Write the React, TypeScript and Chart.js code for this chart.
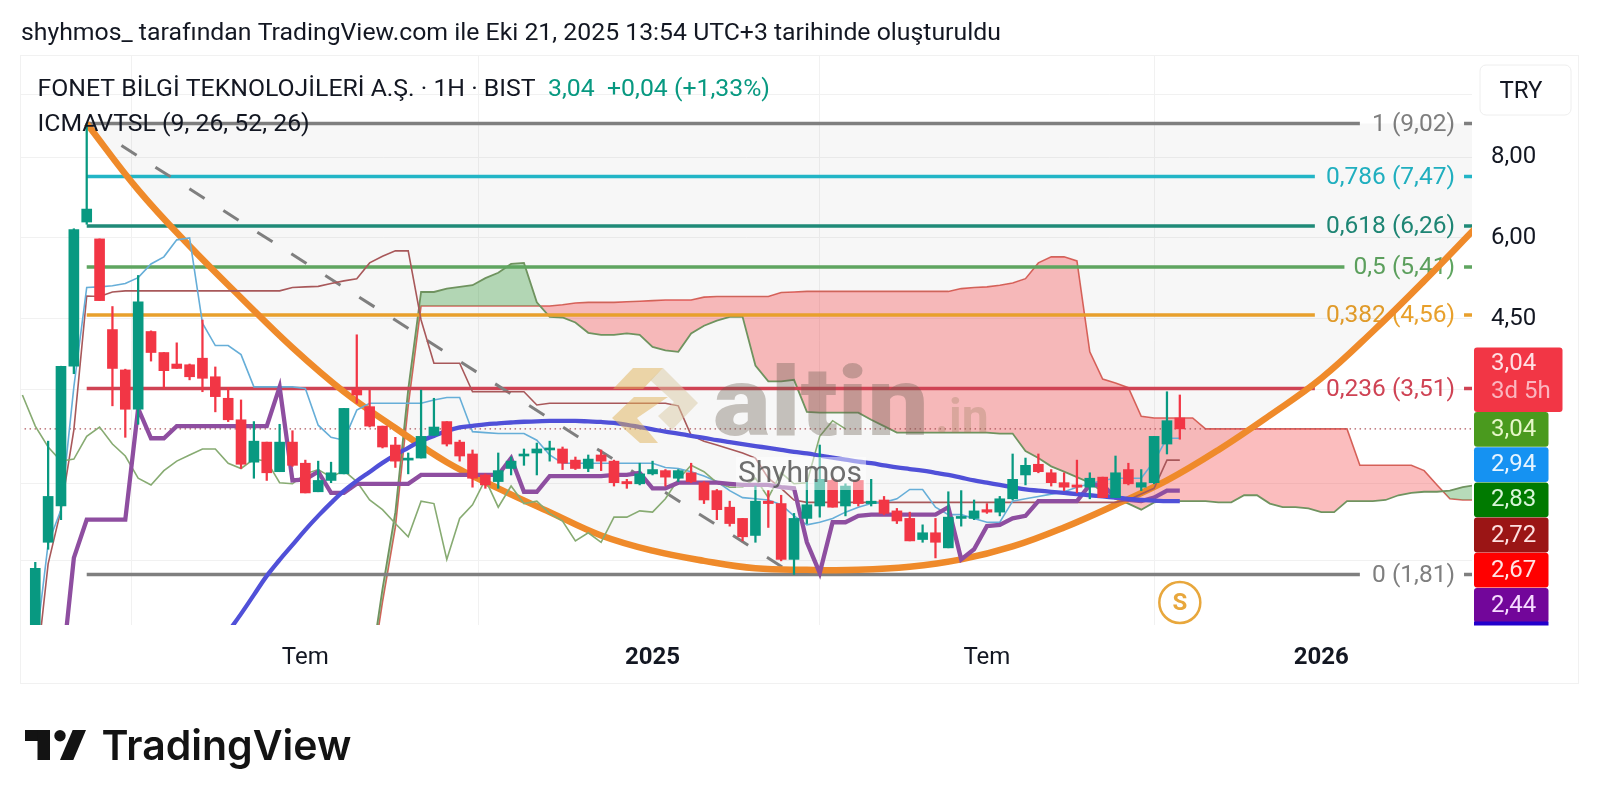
import React, { useEffect, useRef } from "react";
import { Chart, registerables } from "chart.js";

Chart.register(...registerables);

// ---------- data ----------
const opens = [
  1.45, 2.03, 2.31, 3.8, 6.35, 5.98, 4.33, 3.75, 3.26, 4.3,
  3.99, 3.83, 3.82, 3.91, 3.66, 3.39, 3.14, 2.7, 2.9, 2.61,
  2.9, 2.69, 2.43, 2.53, 2.59, 3.5, 3.29, 3.07, 2.87, 2.72,
  2.74, 2.97, 3.12, 2.9, 2.78, 2.58, 2.52, 2.64, 2.76, 2.79,
  2.82, 2.83, 2.72, 2.64, 2.77, 2.71, 2.52, 2.5, 2.59, 2.62,
  2.55, 2.6, 2.51, 2.44, 2.3, 2.21, 2.08, 2.35, 2.33, 1.91,
  2.21, 2.31, 2.53, 2.31, 2.53, 2.33, 2.36, 2.27, 2.21, 2.05,
  2.1, 1.99, 2.21, 2.21, 2.28, 2.26, 2.37, 2.58, 2.68, 2.6,
  2.51, 2.49, 2.47, 2.56, 2.38, 2.63, 2.47, 2.51, 2.88, 3.16,
];
const closes = [
  1.85, 2.39, 3.8, 6.18, 6.65, 4.8, 3.77, 3.26, 4.78, 3.99,
  3.74, 3.77, 3.66, 3.64, 3.41, 3.14, 2.68, 2.91, 2.6, 2.9,
  2.67, 2.42, 2.53, 2.6, 3.27, 3.43, 3.07, 2.85, 2.71, 2.73,
  2.96, 3.06, 2.88, 2.76, 2.55, 2.49, 2.62, 2.71, 2.77, 2.83,
  2.83, 2.69, 2.64, 2.73, 2.71, 2.51, 2.5, 2.59, 2.63, 2.56,
  2.62, 2.52, 2.36, 2.28, 2.17, 2.07, 2.35, 2.33, 1.91, 2.21,
  2.32, 2.54, 2.3, 2.48, 2.33, 2.35, 2.25, 2.19, 2.04, 2.1,
  2.03, 2.22, 2.22, 2.27, 2.26, 2.37, 2.54, 2.67, 2.61, 2.51,
  2.47, 2.47, 2.55, 2.38, 2.6, 2.5, 2.51, 2.96, 3.13, 3.04,
];
const highs = [
  1.89, 2.91, 3.8, 6.2, 9.02, 5.98, 4.7, 3.76, 5.25, 4.31,
  3.99, 4.13, 3.83, 4.48, 3.79, 3.52, 3.37, 3.12, 2.9, 3.09,
  3.02, 2.72, 2.71, 2.7, 3.27, 4.25, 3.49, 3.07, 2.95, 2.79,
  3.49, 3.39, 3.12, 2.92, 2.82, 2.59, 2.79, 2.75, 2.83, 2.89,
  2.91, 2.85, 2.75, 2.77, 2.82, 2.72, 2.54, 2.69, 2.71, 2.63,
  2.63, 2.69, 2.52, 2.45, 2.35, 2.21, 2.48, 2.44, 2.4, 2.25,
  2.52, 2.87, 2.55, 2.5, 2.54, 2.54, 2.39, 2.29, 2.26, 2.16,
  2.21, 2.43, 2.44, 2.36, 2.33, 2.39, 2.78, 2.74, 2.78, 2.63,
  2.6, 2.72, 2.6, 2.56, 2.76, 2.69, 2.63, 2.96, 3.47, 3.43,
];
const lows = [
  1.4, 1.98, 2.2, 3.7, 6.3, 4.8, 3.3, 2.95, 3.09, 3.87,
  3.51, 3.77, 3.62, 3.47, 3.23, 3.12, 2.64, 2.55, 2.53, 2.61,
  2.66, 2.42, 2.43, 2.51, 2.59, 3.33, 3.06, 2.84, 2.65, 2.59,
  2.74, 2.97, 2.86, 2.71, 2.47, 2.46, 2.46, 2.58, 2.67, 2.58,
  2.71, 2.63, 2.63, 2.61, 2.62, 2.48, 2.46, 2.49, 2.58, 2.48,
  2.52, 2.51, 2.33, 2.2, 2.15, 2.04, 2.03, 2.14, 1.9, 1.81,
  2.17, 2.22, 2.3, 2.23, 2.31, 2.31, 2.24, 2.17, 2.04, 2.03,
  1.92, 1.99, 2.15, 2.2, 2.25, 2.23, 2.36, 2.49, 2.6, 2.48,
  2.44, 2.42, 2.37, 2.38, 2.38, 2.49, 2.44, 2.5, 2.78, 2.93,
];

// Ichimoku conversion line, one value per bar
const conversionLine = [
  1.38, 2.02, 2.28, 3.53, 5.03, 5.04, 5.06, 5.1, 5.21, 5.47,
  5.61, 5.96, 6.0, 4.43, 4.09, 4.09, 3.96, 3.53, 3.53, 3.53,
  3.53, 3.51, 3.08, 2.95, 2.92, 3.25, 3.33, 3.33, 3.33, 3.33,
  3.33, 3.37, 3.4, 3.4, 3.01, 3.0, 2.99, 2.99, 2.99, 2.92,
  2.77, 2.69, 2.69, 2.69, 2.69, 2.69, 2.69, 2.69, 2.69, 2.65,
  2.64, 2.61, 2.57, 2.52, 2.44, 2.38, 2.37, 2.36, 2.32, 2.23,
  2.16, 2.18, 2.21, 2.26, 2.3, 2.33, 2.34, 2.37, 2.45, 2.45,
  2.3, 2.24, 2.24, 2.21, 2.18, 2.18, 2.35, 2.37, 2.39, 2.41,
  2.43, 2.47, 2.5, 2.53, 2.55, 2.55, 2.55, 2.71, 2.94, 2.94,
];
// Ichimoku base line, one value per bar
const baseLine = [
  1.24, 1.88, 2.28, 3.03, 4.88, 4.87, 4.95, 4.97, 4.97, 4.97,
  4.97, 4.97, 4.97, 4.97, 4.97, 4.97, 4.97, 4.97, 4.97, 4.97,
  5.03, 5.04, 5.05, 5.1, 5.15, 5.19, 5.49, 5.62, 5.73, 5.73,
  4.48, 3.84, 3.84, 3.84, 3.47, 3.47, 3.47, 3.47, 3.47, 3.31,
  3.33, 3.33, 3.33, 3.33, 3.33, 3.33, 3.33, 3.33, 3.33, 3.33,
  3.3, 2.97, 2.91, 2.87, 2.83, 2.79, 2.74, 2.55, 2.46, 2.36,
  2.34, 2.34, 2.34, 2.34, 2.34, 2.34, 2.34, 2.34, 2.34, 2.34,
  2.34, 2.34, 2.34, 2.34, 2.34, 2.34, 2.34, 2.34, 2.34, 2.34,
  2.34, 2.34, 2.34, 2.34, 2.34, 2.36, 2.41, 2.46, 2.72, 2.72,
];
// Cloud edges, starting at bar 26 and running 26 bars past the last candle
const spanStart = 26;
const spanA = [
  1.26, 1.72, 2.26, 3.5,
  4.95, 4.95, 5.01, 5.04, 5.07, 5.2, 5.3, 5.47, 5.49, 4.77,
  4.53, 4.52, 4.44, 4.28, 4.25, 4.25, 4.27, 4.25, 4.07, 4.02,
  4.0, 4.27, 4.39, 4.47, 4.53, 4.53, 3.81, 3.6, 3.6, 3.62,
  3.23, 3.22, 3.22, 3.22, 3.22, 3.14, 3.07, 3.0, 3.0, 3.0,
  3.0, 3.0, 3.0, 3.0, 3.0, 2.99, 2.99, 2.81, 2.74, 2.66,
  2.61, 2.56, 2.51, 2.43, 2.37, 2.33, 2.28, 2.34, 2.35, 2.35,
  2.35, 2.35, 2.34, 2.34, 2.4, 2.4, 2.33, 2.3, 2.3, 2.29,
  2.26, 2.26, 2.35, 2.35, 2.35, 2.36, 2.4, 2.42, 2.43, 2.43,
  2.44, 2.47, 2.49,
];
const spanB = [
  1.22, 1.64, 2.14, 3.3,
  4.71, 4.71, 4.71, 4.71, 4.71, 4.71, 4.71, 4.71, 4.71, 4.71,
  4.71, 4.73, 4.76, 4.77, 4.77, 4.77, 4.78, 4.79, 4.8, 4.81,
  4.81, 4.81, 4.86, 4.87, 4.87, 4.87, 4.87, 4.87, 4.94, 4.95,
  4.96, 4.96, 4.96, 4.96, 4.96, 4.96, 4.96, 4.96, 4.96, 4.96,
  4.96, 4.96, 5.01, 5.03, 5.04, 5.07, 5.11, 5.19, 5.49, 5.61,
  5.61, 5.53, 4.0, 3.63, 3.58, 3.52, 3.18, 3.16, 3.16, 3.16,
  3.16, 3.04, 3.04, 3.04, 3.04, 3.04, 3.04, 3.04, 3.04, 3.04,
  3.04, 3.04, 3.04, 2.67, 2.67, 2.67, 2.67, 2.67, 2.62, 2.49,
  2.37, 2.36, 2.36,
];
// Thick purple stop line, starting at bar 2
const stopStart = 2;
const stopLine = [
  1.24, 1.92, 2.2, 2.2, 2.2, 2.2, 3.27, 2.94, 2.94,
  3.07, 3.07, 3.07, 3.07, 3.07, 3.07, 3.07, 3.07, 3.53, 2.53, 2.54, 2.61, 2.42, 2.42,
  2.5, 2.5, 2.5, 2.5, 2.5, 2.58, 2.58, 2.58, 2.58, 2.58, 2.58, 2.58, 2.74, 2.43, 2.43,
  2.57, 2.57, 2.57, 2.57, 2.57, 2.58, 2.58, 2.6, 2.46, 2.46, 2.51, 2.51, 2.51, 2.51,
  2.5, 2.49, 2.49, 2.49, 2.47, 2.46, 2.03, 1.82, 2.18, 2.18, 2.23,
  2.24, 2.24, 2.24, 2.24, 2.24, 2.24, 2.3, 1.91, 1.98, 2.15, 2.16, 2.21, 2.23,
  2.35, 2.35, 2.35, 2.35, 2.49, 2.49, 2.38, 2.36, 2.35, 2.38, 2.44, 2.44,
];
// Thick blue moving average, starting at bar 15
const maStart = 15;
const movingAverage = [
  1.475, 1.573, 1.683, 1.801, 1.907, 2.011, 2.122, 2.23, 2.336, 2.438,
  2.526, 2.608, 2.693, 2.771, 2.841, 2.913, 2.965, 3.018, 3.056, 3.073,
  3.089, 3.1, 3.11, 3.118, 3.122, 3.127, 3.127, 3.127, 3.122, 3.116,
  3.105, 3.085, 3.06, 3.035, 3.01, 2.99, 2.965, 2.945, 2.92, 2.9,
  2.88, 2.86, 2.84, 2.82, 2.8, 2.785, 2.765, 2.745, 2.725, 2.705,
  2.69, 2.67, 2.65, 2.635, 2.62, 2.6, 2.58, 2.555, 2.53, 2.51,
  2.49, 2.47, 2.45, 2.44, 2.43, 2.42, 2.41, 2.4, 2.39, 2.38,
  2.37, 2.36, 2.355, 2.35, 2.35,
];
// Orange curve, read every fourth bar
const curveBars = [4, 8, 12, 16, 20, 24, 28, 32, 36, 40, 44, 48, 52, 56, 60, 64, 68, 72, 76, 80, 84, 88, 92, 96, 100, 104, 108, 112];
const curveValues = [9.02, 7.12, 5.83, 4.85, 4.06, 3.47, 3.05, 2.7, 2.46, 2.26, 2.08, 1.97, 1.9, 1.85, 1.84, 1.84, 1.86, 1.91, 2.0, 2.14, 2.32, 2.53, 2.82, 3.19, 3.64, 4.3, 5.15, 6.22];

const fibLevels = [9.02, 7.47, 6.26, 5.41, 4.56, 3.51, 1.81];
const fibLabels = ["1 (9,02)", "0,786 (7,47)", "0,618 (6,26)", "0,5 (5,41)", "0,382 (4,56)", "0,236 (3,51)", "0 (1,81)"];
const fibColors = ["#7f7f7f", "#22b5c6", "#1f8a78", "#5fa560", "#e8a02c", "#cf4354", "#7f7f7f"];
const fibLineEnds = [103, 99.5, 99.5, 101.8, 99.5, 99.5, 103];

const trendBars = [6.7, 59];
const trendValues = [8.34, 1.81];
const lastPrice = 3.04;

const yTickValues = [10, 8, 6, 4.5, 3.5, 2.5, 1.9];
const yTickLabels = ["", "8,00", "6,00", "4,50", "", "", ""];
const xTickBars = [21, 48, 74, 100];
const xTickLabels = ["Tem", "2025", "Tem", "2026"];

const badgeValues = ["3,04", "2,94", "2,83", "2,72", "2,67", "2,44"];
const badgeColors = ["#4a9a1e", "#1592f2", "#007a00", "#9b1515", "#ff0000", "#72069a"];
const badgeTextColors = ["#e6f7c8", "#e6f4ff", "#d8f5d8", "#fde0e0", "#ffe3e3", "#f6dcff"];

const FONT = "Roboto";
const UP = "#089981";
const DOWN = "#f23645";

function roundRect(ctx, x, y, w, h, r, fill, stroke) {
  ctx.beginPath();
  ctx.roundRect(x, y, w, h, r);
  if (fill) { ctx.fillStyle = fill; ctx.fill(); }
  if (stroke) { ctx.strokeStyle = stroke; ctx.lineWidth = 1; ctx.stroke(); }
}
function poly(ctx, pts, color) {
  ctx.beginPath();
  pts.forEach(([x, y], i) => (i ? ctx.lineTo(x, y) : ctx.moveTo(x, y)));
  ctx.closePath();
  ctx.fillStyle = color;
  ctx.fill();
}

const overlay = {
  id: "overlay",
  beforeDraw(chart) {
    const { ctx } = chart;
    ctx.save();
    ctx.fillStyle = "#fff";
    ctx.fillRect(0, 0, 1600, 808);
    ctx.strokeStyle = "#f1f1f1";
    ctx.lineWidth = 1;
    ctx.strokeRect(20.5, 55.5, 1558, 628);
    ctx.restore();
  },
  beforeDatasetsDraw(chart) {
    const { ctx, scales } = chart;
    ctx.save();
    ctx.font = `24.5px ${FONT}`;
    ctx.textAlign = "right";
    ctx.textBaseline = "middle";
    fibLevels.forEach((v, i) => {
      ctx.fillStyle = fibColors[i];
      ctx.fillText(fibLabels[i], 1455, scales.y.getPixelForValue(v) + 1);
    });
    ctx.restore();
  },
  afterDatasetsDraw(chart) {
    const { ctx, scales } = chart;
    ctx.save();

    // watermark logo
    ctx.globalAlpha = 0.5;
    poly(ctx, [[613, 389], [633, 368], [663, 368], [643, 389]], "#dfb258");
    poly(ctx, [[663, 368], [698, 403], [672, 430], [658, 416], [674, 402], [650, 380]], "#d9c9a3");
    poly(ctx, [[612, 418], [634, 397], [668, 397], [637, 418], [658, 443], [640, 443]], "#dfb258");
    ctx.globalAlpha = 1;

    // watermark words
    ctx.textBaseline = "alphabetic";
    ctx.textAlign = "left";
    ctx.save();
    ctx.translate(713, 435);
    ctx.scale(1.13, 1);
    ctx.font = `900 96px ${FONT}`;
    ctx.fillStyle = "rgba(105,95,80,0.36)";
    ctx.fillText("altin", 0, 0);
    ctx.restore();
    ctx.font = `bold 48px ${FONT}`;
    ctx.fillStyle = "rgba(150,125,90,0.3)";
    ctx.fillText(".in", 935, 433);

    ctx.fillStyle = "rgba(255,255,255,0.48)";
    ctx.fillRect(736, 457, 130, 33);
    ctx.font = `30px ${FONT}`;
    ctx.fillStyle = "rgba(85,85,85,0.85)";
    ctx.fillText("Shyhmos", 738, 482);

    // earnings marker
    const sx = scales.x.getPixelForValue(89);
    ctx.beginPath();
    ctx.arc(sx, 602.5, 20.5, 0, Math.PI * 2);
    ctx.fillStyle = "#fff";
    ctx.fill();
    ctx.lineWidth = 2.5;
    ctx.strokeStyle = "#e8a73c";
    ctx.stroke();
    ctx.fillStyle = "#e8a73c";
    ctx.font = `bold 24px ${FONT}`;
    ctx.textAlign = "center";
    ctx.textBaseline = "middle";
    ctx.fillText("S", sx, 604);

    // legend
    ctx.textAlign = "left";
    ctx.font = `24.8px ${FONT}`;
    ctx.fillStyle = "#131722";
    ctx.fillText("FONET BİLGİ TEKNOLOJİLERİ A.Ş. · 1H · BIST", 37.5, 90);
    ctx.fillText("ICMAVTSL (9, 26, 52, 26)", 37.5, 125);
    ctx.fillStyle = "#089981";
    ctx.fillText("3,04", 548, 90);
    ctx.fillText("+0,04 (+1,33%)", 607, 90);

    // header
    ctx.fillStyle = "#131722";
    ctx.fillText("shyhmos_ tarafından TradingView.com ile Eki 21, 2025 13:54 UTC+3 tarihinde oluşturuldu", 21, 34);

    // TRY button
    ctx.font = `24px ${FONT}`;
    roundRect(ctx, 1480, 65, 91, 50, 6, "#fff", "#eeeeee");
    ctx.fillStyle = "#131722";
    ctx.textAlign = "center";
    ctx.fillText("TRY", 1521, 92);

    // price badges
    ctx.textAlign = "left";
    badgeValues.forEach((t, i) => {
      const top = 412 + i * 35.2;
      roundRect(ctx, 1474, top, 74.5, 34.8, 3, badgeColors[i], null);
      ctx.fillStyle = badgeTextColors[i];
      ctx.fillText(t, 1491, top + 18);
    });
    ctx.fillStyle = "#2200cc";
    ctx.fillRect(1474, 621.5, 74.5, 4);
    roundRect(ctx, 1474, 347.5, 88.5, 64.5, 3, DOWN, null);
    ctx.fillStyle = "#ffe0e4";
    ctx.fillText("3,04", 1491, 363.5);
    ctx.fillStyle = "#fbb6bf";
    ctx.fillText("3d 5h", 1491, 391.5);

    // TradingView logo
    ctx.fillStyle = "#131313";
    ctx.fillRect(25, 730, 25, 11);
    ctx.fillRect(37.5, 730, 12.5, 30);
    ctx.beginPath();
    ctx.arc(60, 735.7, 5.7, 0, Math.PI * 2);
    ctx.fill();
    poly(ctx, [[72.7, 730], [86, 730], [73.3, 760], [60, 760]], "#131313");
    ctx.fillStyle = "#131313";
    ctx.textBaseline = "alphabetic";
    ctx.font = `600 41px Inter`;
    ctx.fillText("TradingView", 101.5, 760, 250);
    ctx.restore();
  },
};

const line = (data, color, width, order, extra = {}) => ({
  type: "line",
  data,
  borderColor: color,
  borderWidth: width,
  pointRadius: 0,
  pointHitRadius: 0,
  tension: 0,
  fill: false,
  order,
  ...extra,
});
const series = (values, start = 0) => values.map((y, i) => ({ x: i + start, y }));

export default function App() {
  const ref = useRef(null);
  useEffect(() => {
    const candleColors = closes.map((c, i) => (c >= opens[i] ? UP : DOWN));
    const curve = curveBars.map((x, i) => ({ x, y: curveValues[i] }));
    const lagging = closes.slice(25).map((y, i) => ({ x: i - 1, y }));

    const datasets = [
      // 0: shaded area inside the curve
      line(curve, "rgba(0,0,0,0)", 0, 100, {
        tension: 0.4,
        fill: { value: fibLevels[0] },
        backgroundColor: "rgba(0,0,0,0.032)",
      }),
      // 1: span B, 2: span A with the cloud between them
      line(series(spanB, spanStart), "#d9655f", 1.6, 60),
      line(series(spanA, spanStart), "#6f935f", 1.8, 59, {
        fill: { target: 1, above: "rgba(67,160,71,0.38)", below: "rgba(244,67,70,0.35)" },
      }),
      ...fibLevels.map((v, i) =>
        line(
          [
            { x: 4, y: v },
            { x: fibLineEnds[i], y: v },
            { x: fibLineEnds[i], y: null },
            { x: 111.1, y: v },
            { x: 113, y: v },
          ],
          fibColors[i],
          3.5,
          50
        )
      ),
      line([{ x: -2, y: lastPrice }, { x: 113, y: lastPrice }], "#b0565c", 1.2, 45, { borderDash: [1.5, 3.5] }),
      line(trendBars.map((x, i) => ({ x, y: trendValues[i] })), "#7f7f7f", 3, 44, { borderDash: [18, 22.3] }),
      line(curve, "#ef8a2a", 6.5, 40, { tension: 0.4 }),
      line(series(baseLine), "#a8585a", 1.6, 34),
      line(series(conversionLine), "#66aed8", 1.6, 33),
      line(lagging, "#87ab72", 1.6, 32),
      line(series(stopLine, stopStart), "#8e4ea0", 4.3, 31),
      line(series(movingAverage, maStart), "#5050d8", 4.3, 30, { tension: 0.4 }),
      {
        type: "bar",
        data: lows.map((l, i) => ({ x: i, y: [l, highs[i]] })),
        backgroundColor: candleColors,
        borderWidth: 0,
        barThickness: 1.6,
        grouped: false,
        order: 2,
      },
      {
        type: "bar",
        data: opens.map((o, i) => ({ x: i, y: [Math.min(o, closes[i]), Math.max(o, closes[i])] })),
        backgroundColor: candleColors,
        borderWidth: 0,
        barThickness: 10,
        grouped: false,
        minBarLength: 2,
        order: 1,
      },
    ];

    const chart = new Chart(ref.current, {
      type: "line",
      data: { datasets },
      plugins: [overlay],
      options: {
        animation: false,
        responsive: false,
        devicePixelRatio: 1,
        events: [],
        layout: { padding: { left: 21, top: 56, right: 0, bottom: 0 } },
        plugins: { legend: { display: false }, tooltip: { enabled: false }, title: { display: false } },
        scales: {
          x: {
            type: "linear",
            min: -1.11,
            max: 111.72,
            offset: false,
            border: { display: false },
            grid: { color: "#f1f1f1", drawTicks: false, lineWidth: 1 },
            afterBuildTicks: (s) => { s.ticks = xTickBars.map((value) => ({ value })); },
            afterFit: (s) => { s.height = 808 - 625; },
            ticks: {
              autoSkip: false,
              maxRotation: 0,
              padding: 19,
              color: "#131722",
              font: (c) => ({ family: FONT, size: 24, weight: c.index % 2 ? "bold" : "normal" }),
              callback: (_, i) => xTickLabels[i],
            },
          },
          y: {
            type: "logarithmic",
            position: "right",
            min: 1.512,
            max: 11.47,
            border: { display: false },
            grid: { color: "#f1f1f1", drawTicks: false, lineWidth: 1 },
            afterBuildTicks: (s) => { s.ticks = yTickValues.map((value) => ({ value })); },
            afterFit: (s) => { s.width = 128; },
            ticks: {
              autoSkip: false,
              padding: 19,
              color: "#131722",
              font: { family: FONT, size: 24 },
              callback: (_, i) => yTickLabels[i],
            },
          },
        },
      },
    });
    return () => chart.destroy();
  }, []);
  return (
    <div style={{ position: "absolute", left: 0, top: 0, width: 1600, height: 808 }}>
      <canvas ref={ref} width={1600} height={808} style={{ display: "block" }} />
    </div>
  );
}
